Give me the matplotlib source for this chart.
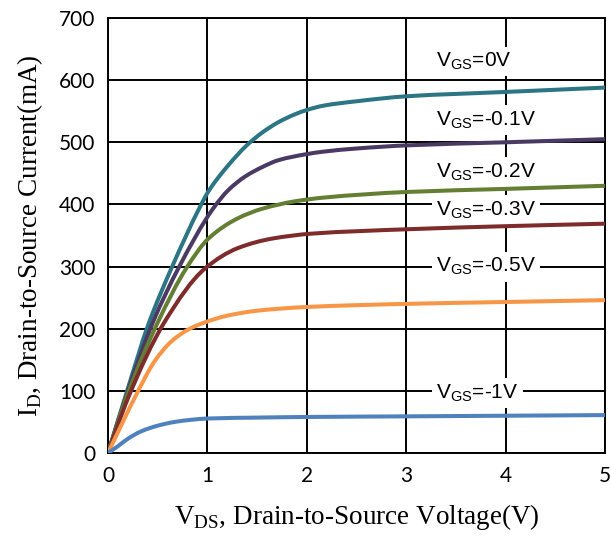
import matplotlib
matplotlib.use("Agg")
from matplotlib import pyplot as plt
from matplotlib.path import Path
from matplotlib.patches import PathPatch
import numpy as np

plt.rcParams['mathtext.fontset'] = 'custom'
plt.rcParams['mathtext.rm'] = 'Liberation Serif'
plt.rcParams['mathtext.sf'] = 'Liberation Sans'

# V_DS (V) vs I_D (mA) for each V_GS
vds_0v = [0, 0.2, 0.406, 0.64, 0.925, 1.01, 1.21, 1.395, 1.546, 1.71, 1.88, 2, 2.17, 2.5, 3, 4, 5]
id_0v = [0, 104, 207, 298, 396, 421, 463, 495, 515, 532, 545, 552, 559, 566, 574, 581, 588]

vds_01 = [0, 0.2, 0.456, 0.707, 1.06, 1.21, 1.38, 1.55, 1.71, 2, 2.17, 2.5, 3, 4, 5]
id_01 = [0, 100, 212, 297, 394, 423, 445, 460, 471, 481, 485, 490, 495, 500, 505]

vds_02 = [0, 0.2, 0.506, 0.79, 1.01, 1.31, 1.55, 1.88, 2.17, 3, 4, 5]
id_02 = [0, 96, 212, 298, 345, 378, 393, 405, 411, 420, 425, 430]

vds_03 = [0, 0.2, 0.573, 0.976, 1.31, 1.65, 2.05, 3, 4, 5]
id_03 = [0, 88, 212, 297, 330, 345, 353, 360, 365, 369]

vds_05 = [0, 0.14, 0.3, 0.47, 0.64, 0.81, 0.97, 1.2, 1.5, 2, 3, 4, 5]
id_05 = [0, 47, 99, 148, 180, 199, 210, 221, 229, 235, 240, 243, 246]

vds_1 = [0, 0.1, 0.2, 0.335, 0.5, 0.67, 0.84, 1, 1.5, 2, 3, 4, 5]
id_1 = [0, 11, 23, 35, 44, 50, 53.5, 55.5, 57, 58, 59, 60, 61]

labels = ['0V', '-0.1V', '-0.2V', '-0.3V', '-0.5V', '-1V']
label_y = [630, 536, 452, 391, 300, 97]


def smooth_path(x, y):
    # cubic bezier through the data points (monotone hermite tangents)
    x = np.asarray(x, float)
    y = np.asarray(y, float)
    h = np.diff(x)
    d = np.diff(y) / h
    m = np.empty_like(x)
    m[0], m[-1] = d[0], d[-1]
    for k in range(1, len(x) - 1):
        if d[k - 1] * d[k] <= 0:
            m[k] = 0
        else:
            w1 = 2 * h[k] + h[k - 1]
            w2 = h[k] + 2 * h[k - 1]
            m[k] = (w1 + w2) / (w1 / d[k - 1] + w2 / d[k])
    verts = [(x[0], y[0])]
    codes = [Path.MOVETO]
    for k in range(len(h)):
        verts += [(x[k] + h[k] / 3, y[k] + m[k] * h[k] / 3),
                  (x[k + 1] - h[k] / 3, y[k + 1] - m[k + 1] * h[k] / 3),
                  (x[k + 1], y[k + 1])]
        codes += [Path.CURVE4] * 3
    return Path(verts, codes)


fig = plt.figure(figsize=(6.11, 5.37), dpi=100)
ax = fig.add_axes([0.1768, 0.1564, 0.8135, 0.8101])

series = [
    (vds_0v, id_0v, '#2B7585'),
    (vds_01, id_01, '#4A3A63'),
    (vds_02, id_02, '#647E34'),
    (vds_03, id_03, '#7E2B2B'),
    (vds_05, id_05, '#F79646'),
    (vds_1, id_1, '#4F81BD'),
]
for x, y, c in series:
    ax.add_patch(PathPatch(smooth_path(x, y), facecolor='none', edgecolor=c,
                           lw=2.9, capstyle='butt', zorder=3))

ax.set_xlim(0, 5)
ax.set_ylim(0, 700)
ax.set_xticks(range(0, 6))
ax.set_yticks(range(0, 701, 100))
ax.grid(True, color='black', lw=1.4)
ax.set_axisbelow(True)
for s in ax.spines.values():
    s.set_linewidth(1.4)
ax.tick_params(length=0, pad=9, labelsize=15)
for t in ax.get_xticklabels() + ax.get_yticklabels():
    t.set_fontfamily('Lato')

ax.set_xlabel(r'V$_{\mathrm{DS}}$, Drain-to-Source Voltage(V)', fontsize=19.5,
              family='Liberation Serif', labelpad=12)
ax.set_ylabel(r'I$_{\mathrm{D}}$, Drain-to-Source Current(mA)', fontsize=19.5,
              family='Liberation Serif', labelpad=10)

for lab, yv in zip(labels, label_y):
    ax.text(3.3, yv, 'V$_{\\mathsf{GS}}$=' + lab, fontsize=15, family='Liberation Sans',
            ha='left', va='center', zorder=2,
            bbox=dict(facecolor='white', edgecolor='none', pad=3))

fig.savefig('out.png', dpi=100)
